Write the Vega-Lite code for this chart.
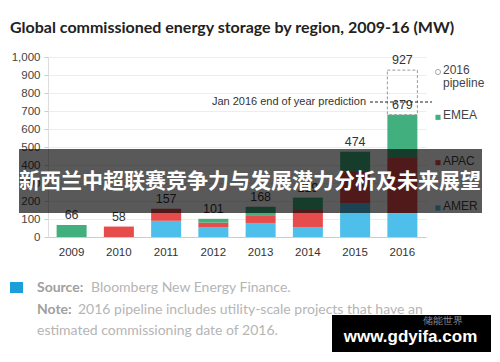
{
  "$schema": "https://vega.github.io/schema/vega-lite/v6.json",
  "width": 378,
  "height": 180,
  "autosize": {"type": "none"},
  "padding": {"left": 48, "top": 57, "right": 74, "bottom": 125},
  "background": "#ffffff",
  "config": {"font": "Liberation Sans", "view": {"stroke": null}},
  "title": {
    "text": "Global commissioned energy storage by region, 2009-16 (MW)",
    "anchor": "start",
    "frame": "group",
    "dx": -38,
    "offset": 15,
    "font": "Lato",
    "fontWeight": "bold",
    "fontSize": 16,
    "color": "#222222"
  },
  "datasets": {
    "bars": [
      {"year": "2009", "region": "EMEA", "value": 66},
      {"year": "2010", "region": "APAC", "value": 58},
      {"year": "2011", "region": "AMER", "value": 90},
      {"year": "2011", "region": "APAC", "value": 67},
      {"year": "2012", "region": "AMER", "value": 55},
      {"year": "2012", "region": "APAC", "value": 25},
      {"year": "2012", "region": "EMEA", "value": 21},
      {"year": "2013", "region": "AMER", "value": 78},
      {"year": "2013", "region": "APAC", "value": 39},
      {"year": "2013", "region": "EMEA", "value": 51},
      {"year": "2014", "region": "AMER", "value": 55},
      {"year": "2014", "region": "APAC", "value": 100},
      {"year": "2014", "region": "EMEA", "value": 64},
      {"year": "2015", "region": "AMER", "value": 189},
      {"year": "2015", "region": "APAC", "value": 172},
      {"year": "2015", "region": "EMEA", "value": 113},
      {"year": "2016", "region": "AMER", "value": 133},
      {"year": "2016", "region": "APAC", "value": 306},
      {"year": "2016", "region": "EMEA", "value": 240}
    ],
    "pipeline": [
      {"year": "2016", "region": "2016 pipeline", "from": 679, "value": 927}
    ],
    "totals": [
      {"year": "2009", "value": 66},
      {"year": "2010", "value": 58},
      {"year": "2011", "value": 157},
      {"year": "2012", "value": 101},
      {"year": "2013", "value": 168},
      {"year": "2014", "value": 219},
      {"year": "2015", "value": 474},
      {"year": "2016", "value": 679},
      {"year": "2016", "value": 927}
    ],
    "legendItems": [
      {"region": "2016 pipeline"},
      {"region": "EMEA"},
      {"region": "APAC"},
      {"region": "AMER"}
    ]
  },
  "layer": [
    {
      "encoding": {
        "x": {
          "field": "year", "type": "ordinal",
          "scale": {"paddingInner": 0.365, "paddingOuter": 0.1825},
          "axis": {"title": null, "labelAngle": 0, "labelFontSize": 11.5, "labelColor": "#333333", "ticks": false, "labelPadding": 9, "domainColor": "#cccccc", "grid": false}
        },
        "y": {
          "field": "value", "type": "quantitative",
          "scale": {"domain": [0, 1000], "nice": false},
          "axis": {"title": null, "values": [0, 100, 200, 300, 400, 500, 600, 700, 800, 900, 1000], "format": ",d", "grid": true, "labelFontSize": 11.5, "labelColor": "#444444", "tickSize": 4, "tickColor": "#cccccc", "domain": true, "domainColor": "#dddddd", "gridColor": "#ededed", "labelPadding": 4}
        }
      },
      "layer": [
        {
          "data": {"name": "bars"},
          "mark": {"type": "bar"},
          "encoding": {
            "color": {
              "field": "region", "type": "nominal",
              "scale": {"domain": ["2016 pipeline", "EMEA", "APAC", "AMER"], "range": ["#ffffff", "#41b07e", "#e74c4c", "#4dbfea"]},
              "legend": null
            },
            "order": {"field": "region", "sort": "ascending"}
          }
        },
        {
          "data": {"name": "pipeline"},
          "mark": {"type": "bar", "fillOpacity": 0, "stroke": "#9a9a9a", "strokeDash": [3, 2], "strokeWidth": 1},
          "encoding": {
            "y2": {"field": "from"}
          }
        },
        {
          "data": {"name": "totals"},
          "mark": {"type": "text", "dy": -10, "fontSize": 12.5, "color": "#333333", "baseline": "middle"},
          "encoding": {
            "text": {"field": "value", "type": "quantitative"}
          }
        }
      ]
    },
    {
      "data": {"values": [{"label": "Jan 2016 end of year prediction", "value": 750}]},
      "layer": [
        {
          "mark": {"type": "rule", "strokeDash": [3, 2], "color": "#222222", "strokeWidth": 1.2},
          "encoding": {
            "x": {"datum": 74, "type": "quantitative", "scale": {"domain": [9.6, 85.2], "nice": false, "zero": false}, "axis": null},
            "x2": {"datum": 86.4},
            "y": {"field": "value", "type": "quantitative", "scale": {"domain": [0, 1000], "nice": false}, "axis": null}
          }
        },
        {
          "mark": {"type": "text", "align": "right", "baseline": "middle", "fontSize": 11, "color": "#333333"},
          "encoding": {
            "x": {"datum": 73.2, "type": "quantitative"},
            "y": {"field": "value", "type": "quantitative"},
            "text": {"field": "label"}
          }
        }
      ]
    },
    {
      "data": {"name": "legendItems"},
      "encoding": {
        "y": {"field": "region", "type": "nominal", "scale": {"type": "point", "domain": ["2016 pipeline", "EMEA", "APAC", "AMER"], "range": [15, 151], "padding": 0}, "axis": null}
      },
      "layer": [
        {
          "mark": {"type": "point", "filled": true, "strokeWidth": 1, "opacity": 1},
          "encoding": {
            "x": {"datum": 87.6, "type": "quantitative", "scale": {"domain": [9.6, 85.2], "nice": false, "zero": false}, "axis": null},
            "color": {"field": "region", "type": "nominal", "scale": {"domain": ["2016 pipeline", "EMEA", "APAC", "AMER"], "range": ["#ffffff", "#41b07e", "#e74c4c", "#4dbfea"]}, "legend": null},
            "shape": {"condition": {"test": "datum.region === '2016 pipeline'", "value": "circle"}, "value": "square"},
            "stroke": {"condition": {"test": "datum.region === '2016 pipeline'", "value": "#aaaaaa"}, "value": null},
            "size": {"value": 26}
          }
        },
        {
          "mark": {"type": "text", "align": "left", "baseline": "top", "dy": -7, "fontSize": 12, "lineHeight": 13, "lineBreak": " ", "color": "#444444"},
          "encoding": {
            "x": {"datum": 88.6, "type": "quantitative"},
            "text": {"field": "region"}
          }
        }
      ]
    },
    {
      "data": {"values": [{"label": "Source:", "note": "Bloomberg New Energy Finance."}]},
      "encoding": {
        "y": {"datum": -283, "type": "quantitative", "scale": {"domain": [0, 1000], "nice": false}, "axis": null}
      },
      "layer": [
        {
          "mark": {"type": "text", "align": "left", "baseline": "middle", "font": "Lato", "fontWeight": "bold", "fontSize": 14, "color": "#a0a0a0"},
          "encoding": {
            "x": {"datum": 7.4, "type": "quantitative", "scale": {"domain": [9.6, 85.2], "nice": false, "zero": false}, "axis": null},
            "text": {"field": "label"}
          }
        },
        {
          "mark": {"type": "text", "align": "left", "baseline": "middle", "font": "Lato", "fontSize": 14, "color": "#b5b5b5"},
          "encoding": {
            "x": {"datum": 18.2, "type": "quantitative"},
            "text": {"field": "note"}
          }
        }
      ]
    },
    {
      "data": {"values": [{"label": "Note:", "note": "2016 pipeline includes utility-scale projects that have an"}]},
      "encoding": {
        "y": {"datum": -406, "type": "quantitative", "scale": {"domain": [0, 1000], "nice": false}, "axis": null}
      },
      "layer": [
        {
          "mark": {"type": "text", "align": "left", "baseline": "middle", "font": "Lato", "fontWeight": "bold", "fontSize": 14, "color": "#a0a0a0"},
          "encoding": {
            "x": {"datum": 7.4, "type": "quantitative", "scale": {"domain": [9.6, 85.2], "nice": false, "zero": false}, "axis": null},
            "text": {"field": "label"}
          }
        },
        {
          "mark": {"type": "text", "align": "left", "baseline": "middle", "font": "Lato", "fontSize": 14, "color": "#b5b5b5"},
          "encoding": {
            "x": {"datum": 15.6, "type": "quantitative"},
            "text": {"field": "note"}
          }
        }
      ]
    },
    {
      "data": {"values": [{"note": "estimated commissioning date of 2016."}]},
      "mark": {"type": "text", "align": "left", "baseline": "middle", "font": "Lato", "fontSize": 14, "color": "#b5b5b5"},
      "encoding": {
        "x": {"datum": 7.4, "type": "quantitative", "scale": {"domain": [9.6, 85.2], "nice": false, "zero": false}, "axis": null},
        "y": {"datum": -522, "type": "quantitative", "scale": {"domain": [0, 1000], "nice": false}, "axis": null},
        "text": {"field": "note"}
      }
    },
    {
      "data": {"values": [{"item": "source marker"}]},
      "mark": {"type": "rect", "color": "#1b9fdb"},
      "encoding": {
        "x": {"datum": 2.0, "type": "quantitative", "scale": {"domain": [9.6, 85.2], "nice": false, "zero": false}, "axis": null},
        "x2": {"datum": 4.6},
        "y": {"datum": -250, "type": "quantitative", "scale": {"domain": [0, 1000], "nice": false}, "axis": null},
        "y2": {"datum": -311}
      }
    },
    {
      "data": {"values": [{"site": "www.gdyifa.com", "account": "储能世界"}]},
      "encoding": {
        "x": {"datum": 82.1, "type": "quantitative", "scale": {"domain": [9.6, 85.2], "nice": false, "zero": false}, "axis": null},
        "y": {"datum": -556, "type": "quantitative", "scale": {"domain": [0, 1000], "nice": false}, "axis": null}
      },
      "layer": [
        {
          "mark": {"type": "rect", "color": "#000000"},
          "encoding": {
            "x": {"datum": 66.4, "type": "quantitative"},
            "x2": {"datum": 98.2},
            "y": {"datum": -433, "type": "quantitative"},
            "y2": {"datum": -639}
          }
        },
        {
          "mark": {"type": "text", "align": "center", "baseline": "middle", "fontSize": 10, "color": "#8a8a8a"},
          "encoding": {
            "x": {"datum": 88.5, "type": "quantitative"},
            "y": {"datum": -467, "type": "quantitative"},
            "text": {"field": "account"}
          }
        },
        {
          "mark": {"type": "text", "align": "center", "baseline": "middle", "font": "Liberation Sans", "fontWeight": "bold", "fontSize": 17, "color": "#ffffff"},
          "encoding": {
            "text": {"field": "site"}
          }
        }
      ]
    },
    {
      "data": {"values": [{"headline": "新西兰中超联赛竞争力与发展潜力分析及未来展望"}]},
      "layer": [
        {
          "mark": {"type": "rect", "color": "#000000", "opacity": 0.65},
          "encoding": {
            "x": {"datum": 3.8, "type": "quantitative", "scale": {"domain": [9.6, 85.2], "nice": false, "zero": false}, "axis": null},
            "x2": {"datum": 96.4},
            "y": {"datum": 489, "type": "quantitative", "scale": {"domain": [0, 1000], "nice": false}, "axis": null},
            "y2": {"datum": 133}
          }
        },
        {
          "mark": {"type": "text", "align": "center", "baseline": "middle", "font": "Noto Sans CJK SC", "fontWeight": "bold", "fontSize": 21, "color": "#ffffff"},
          "encoding": {
            "x": {"datum": 50, "type": "quantitative"},
            "y": {"datum": 306, "type": "quantitative"},
            "text": {"field": "headline"}
          }
        }
      ]
    }
  ],
  "resolve": {"scale": {"x": "independent", "y": "independent"}}
}
